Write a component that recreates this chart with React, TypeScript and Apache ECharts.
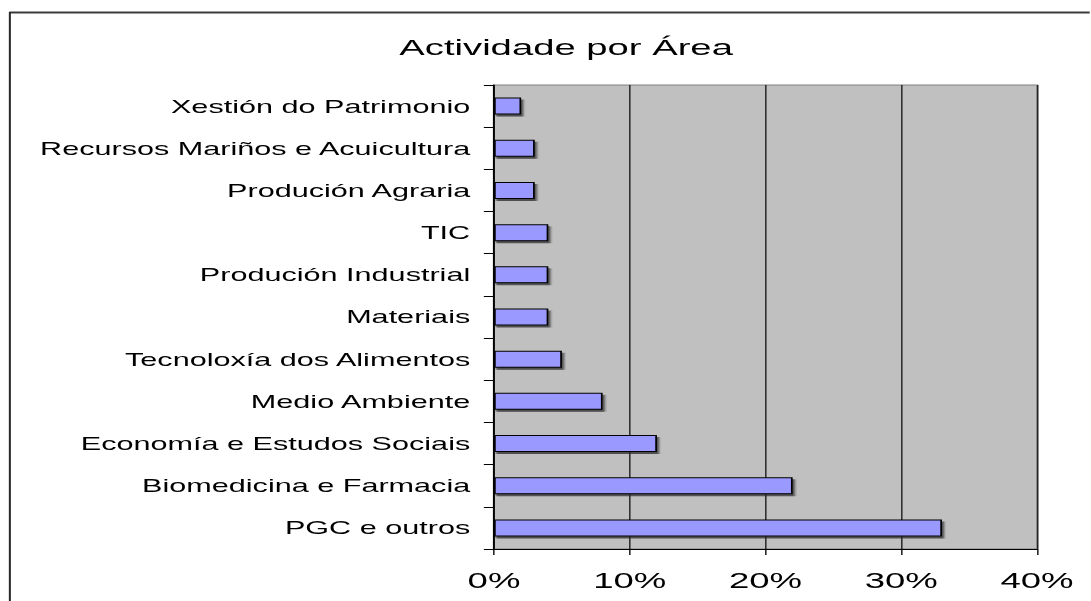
import React, { useEffect, useRef } from "react";
import * as echarts from "echarts";

const categories = [
  "Xestión do Patrimonio",
  "Recursos Mariños e Acuicultura",
  "Produción Agraria",
  "TIC",
  "Produción Industrial",
  "Materiais",
  "Tecnoloxía dos Alimentos",
  "Medio Ambiente",
  "Economía e Estudos Sociais",
  "Biomedicina e Farmacia",
  "PGC e outros",
];
const values = [2, 3, 3, 4, 4, 4, 5, 8, 12, 22, 33];
const xTicks = { min: 0, max: 40, interval: 10 };
const titleText = "Actividade por Área";

const STRETCH = 1.7;
const W = 641;
const H = 601;

export default function App() {
  const ref = useRef<HTMLDivElement>(null);
  useEffect(() => {
    if (!ref.current) return;
    const chart = echarts.init(ref.current, null, { renderer: "svg", width: W, height: H });
    const font = "'Liberation Sans', Arial, sans-serif";
    chart.setOption({
      animation: false,
      backgroundColor: "#ffffff",
      title: {
        text: titleText,
        left: 333,
        top: 36,
        textAlign: "center",
        padding: 0,
        textStyle: { fontFamily: font, fontSize: 22.5, fontWeight: "normal", color: "#000" },
      },
      graphic: [
        { type: "line", shape: { x1: 5.5, y1: 12.5, x2: W + 10, y2: 12.5 }, style: { stroke: "#3a3a3a", lineWidth: 2 } },
        { type: "line", shape: { x1: 5.8, y1: 12, x2: 5.8, y2: H + 10 }, style: { stroke: "#2a2a2a", lineWidth: 1.2 } },
      ],
      grid: {
        left: 290.6,
        right: W - 610,
        top: 85,
        bottom: 52,
        show: true,
        backgroundColor: "#c0c0c0",
        borderColor: "#808080",
        borderWidth: 1,
      },
      xAxis: {
        type: "value",
        min: xTicks.min,
        max: xTicks.max,
        interval: xTicks.interval,
        axisLine: { show: true, lineStyle: { color: "#000", width: 1 } },
        axisTick: { show: true, length: 6, lineStyle: { color: "#000", width: 0.8 } },
        splitLine: { show: true, lineStyle: { color: "#000", width: 0.7 } },
        axisLabel: {
          formatter: "{value}%",
          fontFamily: font,
          fontSize: 21.5,
          color: "#000",
          margin: 20,
        },
      },
      yAxis: {
        type: "category",
        data: categories,
        inverse: true,
        axisLine: { show: true, lineStyle: { color: "#000", width: 1.1 } },
        axisTick: { show: true, length: 6, lineStyle: { color: "#000", width: 1 } },
        axisLabel: { fontFamily: font, fontSize: 18, color: "#000", margin: 14 },
        splitLine: { show: false },
      },
      series: [
        {
          type: "bar",
          data: values,
          barWidth: 17,
          itemStyle: {
            color: "#9999ff",
            borderColor: "#000",
            borderWidth: 1,
            shadowColor: "rgba(40,40,40,0.75)",
            shadowOffsetX: 1.3,
            shadowOffsetY: 2,
            shadowBlur: 1,
          },
        },
      ],
    });
    return () => chart.dispose();
  }, []);
  return (
    <div
      ref={ref}
      style={{
        position: "fixed",
        left: 0,
        top: 0,
        width: W,
        height: H,
        transform: `scaleX(${STRETCH})`,
        transformOrigin: "0 0",
        background: "#fff",
      }}
    />
  );
}
